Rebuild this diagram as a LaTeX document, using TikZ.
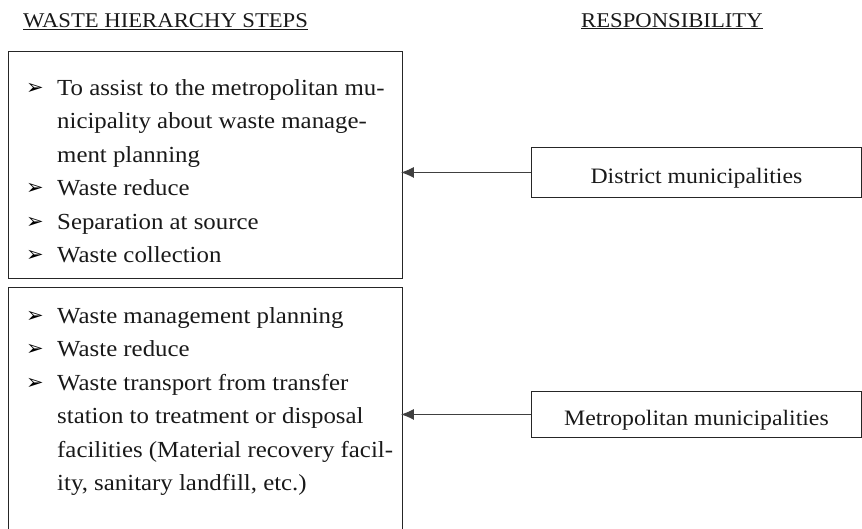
\documentclass[tikz,border=0pt]{standalone}
\usepackage{fontspec}
\setmainfont{Liberation Serif}[FakeStretch=1.08]
\newfontfamily\dejavu{DejaVu Sans}
\usetikzlibrary{arrows.meta}
\begin{document}
\begin{tikzpicture}[x=1pt,y=-1pt,
  box/.style={draw=black!85, line width=0.9pt, inner sep=0pt},
  item/.style={anchor=base west, inner sep=0pt, text=black!90, font=\fontsize{23}{27}\selectfont},
  bul/.style={anchor=base west, inner sep=0pt, text=black, font=\dejavu\fontsize{21}{24}\selectfont},
  head/.style={anchor=base west, inner sep=0pt, text=black!90, font=\fontsize{21}{25}\selectfont},
  resp/.style={box, anchor=north west, minimum width=330pt, text height=22pt, text depth=0pt, text=black!90, font=\fontsize{22}{26}\selectfont},
  arr/.style={-{Latex[length=13pt,width=11pt]}, draw=black!75, line width=1pt, shorten >=-2pt}]
\clip (0,0) rectangle (862,528);
% headings
\node[head] (h1) at (23,27) {\underline{WASTE HIERARCHY STEPS}};
\node[head] (h2) at (581,27) {\underline{RESPONSIBILITY}};
% step boxes
\node[box, anchor=north west, minimum width=394pt, minimum height=227pt] (b1) at (8,51) {};
\node[box, anchor=north west, minimum width=394pt, minimum height=245pt] (b2) at (8,287) {};
% top box items
\node[bul] (tb1) at (26,94) {➢};
\node[item] (t1) at (57,95) {To assist to the metropolitan mu-};
\node[item] (t2) at (57,128.5) {nicipality about waste manage-};
\node[item] (t3) at (57,162) {ment planning};
\node[bul] (tb4) at (26,194.5) {➢};
\node[item] (t4) at (57,195.5) {Waste reduce};
\node[bul] (tb5) at (26,228) {➢};
\node[item] (t5) at (57,229) {Separation at source};
\node[bul] (tb6) at (26,261.5) {➢};
\node[item] (t6) at (57,262.5) {Waste collection};
% bottom box items
\node[bul] (mb1) at (26,322) {➢};
\node[item] (m1) at (57,323) {Waste management planning};
\node[bul] (mb2) at (26,355.5) {➢};
\node[item] (m2) at (57,356.5) {Waste reduce};
\node[bul] (mb3) at (26,389) {➢};
\node[item] (m3) at (57,390) {Waste transport from transfer};
\node[item] (m4) at (57,423.5) {station to treatment or disposal};
\node[item] (m5) at (57,457) {facilities (Material recovery facil-};
\node[item] (m6) at (57,490.5) {ity, sanitary landfill, etc.)};
% responsibility boxes
\node[resp, minimum height=50pt] (dist) at (531,147) {District municipalities};
\node[resp, minimum height=46pt] (metro) at (531,391) {Metropolitan municipalities};
% arrows
\draw[arr] (dist.west) -- (dist.west -| b1.east);
\draw[arr] (metro.west) -- (metro.west -| b2.east);
\end{tikzpicture}
\end{document}
